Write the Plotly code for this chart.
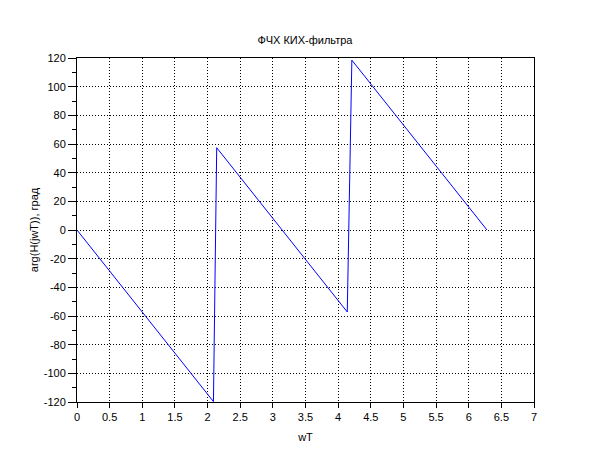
import plotly.graph_objects as go

# Vertices of the phase response (rad, degrees)
wT = [0.0, 2.09, 2.14, 4.14, 4.21, 6.28]
phase_deg = [0.0, -119.7, 57.4, -57.2, 118.5, 0.0]

x_ticks = [0, 0.5, 1, 1.5, 2, 2.5, 3, 3.5, 4, 4.5, 5, 5.5, 6, 6.5, 7]
x_ticklabels = ["0", "0.5", "1", "1.5", "2", "2.5", "3", "3.5", "4", "4.5", "5", "5.5", "6", "6.5", "7"]
y_ticks = [-120, -100, -80, -60, -40, -20, 0, 20, 40, 60, 80, 100, 120]
y_ticklabels = [str(v) for v in y_ticks]

title_text = "ФЧХ КИХ-фильтра"
x_title = "wT"
y_title = "arg(H(jwT)), град"

FONT = "Liberation Sans, Arial, sans-serif"
W, H = 602, 452  # page body has an 8px default margin

fig = go.Figure()
fig.add_trace(go.Scatter(x=wT, y=phase_deg, mode="lines",
                         line=dict(color="#0000ff", width=1), showlegend=False,
                         hoverinfo="skip"))

axis_common = dict(
    showline=True, linecolor="black", linewidth=1, mirror=True,
    showgrid=True, gridcolor="black", gridwidth=1, griddash="1px,2px",
    zeroline=False, ticks="outside", tickcolor="black", tickwidth=1,
    tickfont=dict(family=FONT, size=11, color="black"),
)

fig.update_layout(
    width=W, height=H,
    paper_bgcolor="white", plot_bgcolor="white",
    margin=dict(l=69, r=76, t=50, b=58),
    title=dict(text=title_text, x=(305 - 8) / W, xanchor="center", y=1 - 32 / H, yanchor="middle",
               font=dict(family=FONT, size=11, color="black")),
    xaxis=dict(range=[0, 7], tickvals=x_ticks, ticktext=x_ticklabels, ticklen=5,
               title=dict(text=x_title, font=dict(family=FONT, size=11, color="black"), standoff=11),
               **axis_common),
    yaxis=dict(range=[-120, 120], tickvals=y_ticks, ticktext=y_ticklabels, ticklen=8,
               minor=dict(dtick=10, tick0=0, ticklen=4, ticks="outside", tickcolor="black",
                          showgrid=False),
               title=dict(text=y_title, font=dict(family=FONT, size=11, color="black"), standoff=2),
               **axis_common),
)

fig.write_html("out.html")
